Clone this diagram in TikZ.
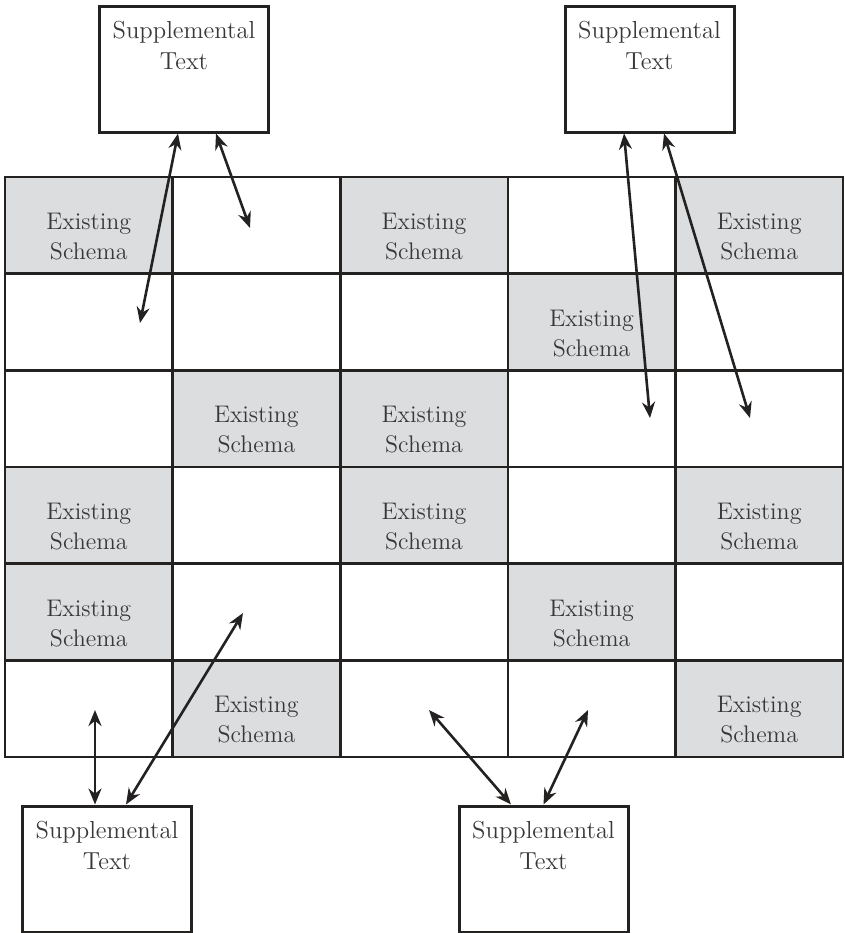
\documentclass[tikz,border=0pt]{standalone}
\usetikzlibrary{arrows.meta}
\begin{document}
\begin{tikzpicture}[x=0.5pt, y=-0.5pt,
    cell/.style={draw=line-gray, line width=1.3pt, minimum width=83.8pt, minimum height=48.33pt,
      inner sep=0pt, align=center, text=text-gray, text height=34pt, text depth=0pt,
      font=\fontsize{12}{15}\selectfont},
    schema/.style={cell, fill=cell-gray},
    suppbox/.style={draw=line-gray, line width=1.5pt, minimum width=84.5pt, minimum height=63pt, inner sep=0pt},
    supptext/.style={anchor=north, yshift=-5pt, align=center, text=text-gray, font=\fontsize{12.3}{15.5}\selectfont},
    link/.style={{Stealth[length=8pt,width=6.5pt]}-{Stealth[length=8pt,width=6.5pt]}, line width=1.3pt, draw=line-gray}]
    \def\cw{167.6}
    \def\ch{96.67}
    \definecolor{line-gray}{rgb}{0.14,0.13,0.13}
    \definecolor{text-gray}{rgb}{0.22,0.22,0.22}
    \definecolor{cell-gray}{rgb}{0.86,0.867,0.875}
    \useasboundingbox (0,0) rectangle (845,933);
    % the grid
    \foreach \r/\c in {0/1,0/3,1/0,1/1,1/2,1/4,2/0,2/3,2/4,3/1,3/3,4/1,4/2,4/4,5/0,5/2,5/3}
      \node[cell] (c-\r-\c) at ({5+\cw*(\c+0.5)},{177+\ch*(\r+0.5)}) {};
    \foreach \r/\c in {0/0,0/2,0/4,1/3,2/1,2/2,3/0,3/2,3/4,4/0,4/3,5/1,5/4}
      \node[schema] (c-\r-\c) at ({5+\cw*(\c+0.5)},{177+\ch*(\r+0.5)}) {Existing\\Schema};
    % supplemental boxes
    \node[suppbox, label={[supptext]north:Supplemental\\Text}] (tl) at (184,69) {};
    \node[suppbox, label={[supptext]north:Supplemental\\Text}] (tr) at (649.5,69) {};
    \node[suppbox, label={[supptext]north:Supplemental\\Text}] (bl) at (107,869) {};
    \node[suppbox, label={[supptext]north:Supplemental\\Text}] (br) at (543.5,869) {};
    \coordinate (e1) at (140,323);
    \coordinate (e2) at (250,228);
    \coordinate (e3) at (650,418);
    \coordinate (e4) at (750,418);
    \coordinate (e5) at (95,710);
    \coordinate (e6) at (243,613);
    \coordinate (e7) at (429,710);
    \coordinate (e8) at (588,710);
    \draw[link] ([xshift=-3pt]tl.south) -- (e1);
    \draw[link] ([xshift=16pt]tl.south) -- (e2);
    \draw[link] ([xshift=-12.75pt]tr.south) -- (e3);
    \draw[link] ([xshift=7.25pt]tr.south) -- (e4);
    \draw[link] ([xshift=-6pt]bl.north) -- (e5);
    \draw[link] ([xshift=9.5pt]bl.north) -- (e6);
    \draw[link] ([xshift=-16.25pt]br.north) -- (e7);
    \draw[link] ([xshift=0pt]br.north) -- (e8);
  \end{tikzpicture}
\end{document}
